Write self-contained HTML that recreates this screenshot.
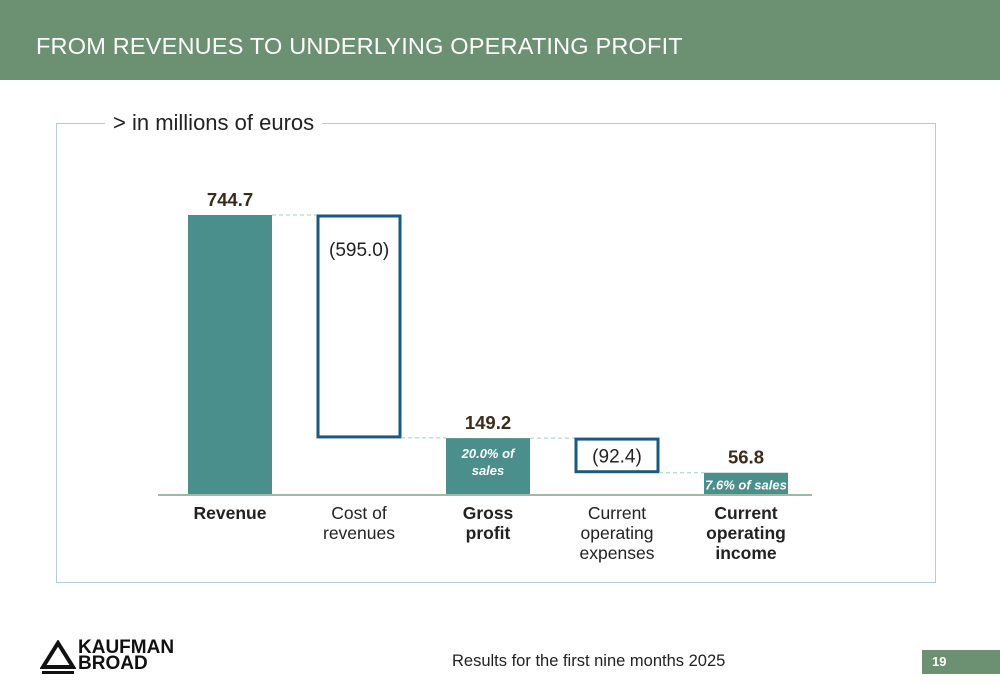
<!DOCTYPE html>
<html><head><meta charset="utf-8"><style>
body{margin:0;width:1000px;height:685px;position:relative;background:#fff;font-family:"Liberation Sans",sans-serif;overflow:hidden}
.hdr{position:absolute;left:0;top:0;width:1000px;height:80px;background:#6b9172}
.title{position:absolute;left:36px;top:33px;color:#fff;font-size:23.5px;letter-spacing:0.2px}
.frame{position:absolute;left:56px;top:123px;width:878px;height:458px;border:1px solid #b8cdd3}
.unit{position:absolute;left:105px;top:110px;background:#fff;padding:0 8px;font-size:22px;color:#222}
.foot{position:absolute;left:452px;top:652px;font-size:16.5px;color:#222}
.pg{position:absolute;left:922px;top:650px;width:78px;height:24px;background:#6b9172;color:#fff;font-weight:bold;font-size:13px;line-height:24px;padding-left:10px;box-sizing:border-box}
.logo{position:absolute;left:78px;top:640px;font-weight:bold;font-size:19px;line-height:16px;color:#111}
</style></head><body>
<div class="hdr"></div>
<div class="title">FROM REVENUES TO UNDERLYING OPERATING PROFIT</div>
<div class="frame"></div>
<div class="unit">&gt; in millions of euros</div>
<svg id="chart" width="1000" height="685" style="position:absolute;left:0;top:0"></svg>
<svg width="36" height="36" style="position:absolute;left:40px;top:640px"><polygon points="18,3 33,27 3,27" fill="none" stroke="#111" stroke-width="4"/><rect x="2" y="31" width="32" height="3" fill="#111"/></svg>
<div class="logo">KAUFMAN<br>BROAD</div>
<div class="foot">Results for the first nine months 2025</div>
<div class="pg">19</div>
<script>
const categories=[["Revenue"],["Cost of","revenues"],["Gross","profit"],["Current","operating","expenses"],["Current","operating","income"]];
const values=[744.7,-595.0,149.2,-92.4,56.8];
const kinds=["total","delta","total","delta","total"];
const valueLabels=["744.7","(595.0)","149.2","(92.4)","56.8"];
const notes=["","","20.0% of|sales","","7.6% of sales"];
const NS="http://www.w3.org/2000/svg";
const svg=document.getElementById('chart');
const base=494,scale=279/744.7,x0=188,step=129,bw=84;
const y=v=>base-v*scale;
const xs=i=>x0+i*step;
function mk(t,a){const e=document.createElementNS(NS,t);for(const k in a)e.setAttribute(k,a[k]);svg.appendChild(e);return e;}
const bl=mk('line',{x1:158,x2:812,y1:base+1,y2:base+1,stroke:'#9dbaa8','stroke-width':2});


let run=0;
values.forEach((v,i)=>{
  let top,bot;
  if(kinds[i]==="total"){run=v;top=y(v);bot=base;}
  else{const s=run;run=s+v;top=y(Math.max(s,run));bot=y(Math.min(s,run));}
  const x=xs(i);
  const r=mk('rect',kinds[i]==="total"?{x:x,y:top,width:bw,height:bot-top,fill:'#4a8f8c'}:{x:x+1,y:top+1,width:bw-2,height:bot-top-2,fill:'none',stroke:'#1a5a80','stroke-width':3});
  
  
  if(i<values.length-1){
    const c=mk('line',{x1:x+bw,x2:xs(i+1),y1:y(run),y2:y(run),stroke:'#9fd0bf','stroke-dasharray':'4,3','stroke-width':1});
    
    
  }
  let lab;
  if(kinds[i]==="total")lab=mk('text',{x:x+bw/2,y:top-9,'text-anchor':'middle','font-size':18.5,'font-weight':'bold',fill:'#3d2b1a','font-family':'Liberation Sans'});
  else if(bot-top>60)lab=mk('text',{x:x+12,y:top+41,'font-size':19,fill:'#222','font-family':'Liberation Sans'});
  else lab=mk('text',{x:x+bw/2,y:(top+bot)/2+7,'text-anchor':'middle','font-size':19,fill:'#222','font-family':'Liberation Sans'});
  lab.textContent=valueLabels[i];
  
  
  if(notes[i]){
    const parts=notes[i].split('|');
    parts.forEach((p,j)=>{
      const n=mk('text',{x:x+bw/2,y:top+(parts.length>1?20+j*17:17),'text-anchor':'middle','font-size':13,'font-style':'italic','font-weight':'bold',fill:'#fff','font-family':'Liberation Sans'});
      n.textContent=p;
      
      
    });
  }
  categories[i].forEach((w,j)=>{
    const t=mk('text',{x:x+bw/2,y:519+j*20,'text-anchor':'middle','font-size':17.5,'font-weight':kinds[i]==="total"?'bold':'normal',fill:'#222','font-family':'Liberation Sans'});
    t.textContent=w;
    
    
  });
});
</script>
</body></html>
